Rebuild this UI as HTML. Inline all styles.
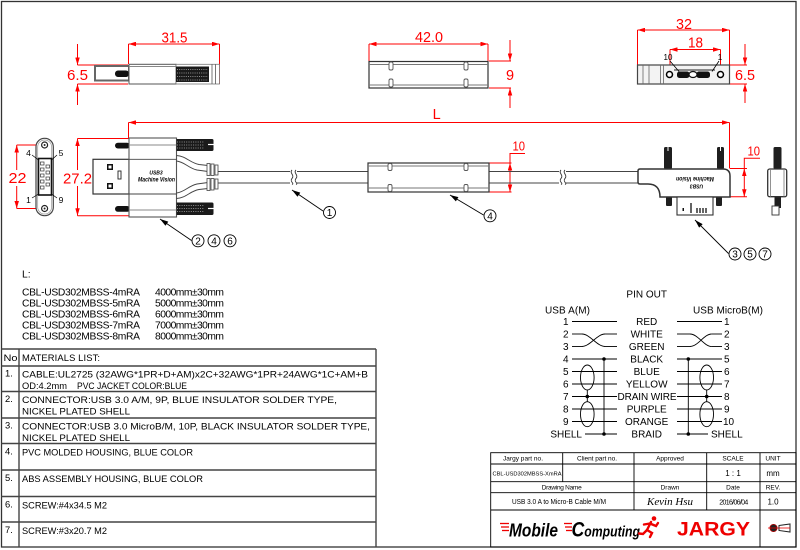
<!DOCTYPE html>
<html><head><meta charset="utf-8"><style>html,body{margin:0;padding:0;background:#fff}svg{display:block}</style></head><body>
<svg width="800" height="550" viewBox="0 0 800 550" xmlns="http://www.w3.org/2000/svg" font-family="'Liberation Sans', Arial, sans-serif">
<defs>
<marker id="ra" viewBox="0 0 10 6" refX="10" refY="3" markerWidth="8" markerHeight="4.5" markerUnits="userSpaceOnUse" orient="auto-start-reverse"><path d="M0,0L10,3L0,6z" fill="#f00"/></marker>
<marker id="ba" viewBox="0 0 10 6" refX="10" refY="3" markerWidth="9" markerHeight="5" markerUnits="userSpaceOnUse" orient="auto-start-reverse"><path d="M0,0L10,3L0,6z" fill="#000"/></marker>
</defs>
<rect width="800" height="550" fill="#fff"/>
<rect x="1.5" y="1.5" width="794.5" height="545.5" fill="none" stroke="#333" stroke-width="1.3"/>

<g stroke="#f00" stroke-width="1" fill="none">
  <line x1="128.5" y1="44" x2="219.5" y2="44" marker-start="url(#ra)" marker-end="url(#ra)"/>
  <line x1="128.5" y1="44" x2="128.5" y2="64"/>
  <line x1="219.5" y1="44" x2="219.5" y2="84"/>
  <line x1="77.5" y1="65" x2="128" y2="65"/>
  <line x1="77.5" y1="84" x2="128" y2="84"/>
  <line x1="77.5" y1="44" x2="77.5" y2="65" marker-end="url(#ra)"/>
  <line x1="77.5" y1="105" x2="77.5" y2="84" marker-end="url(#ra)"/>
  <line x1="369" y1="44" x2="488" y2="44" marker-start="url(#ra)" marker-end="url(#ra)"/>
  <line x1="369" y1="44" x2="369" y2="61"/>
  <line x1="488" y1="44" x2="488" y2="61"/>
  <line x1="489" y1="61" x2="511" y2="61"/>
  <line x1="489" y1="88" x2="511" y2="88"/>
  <line x1="510" y1="40" x2="510" y2="61" marker-end="url(#ra)"/>
  <line x1="510" y1="108" x2="510" y2="88" marker-end="url(#ra)"/>
  <line x1="637.5" y1="30" x2="729.5" y2="30" marker-start="url(#ra)" marker-end="url(#ra)"/>
  <line x1="637.5" y1="30" x2="637.5" y2="65"/>
  <line x1="729.5" y1="30" x2="729.5" y2="84"/>
  <line x1="670" y1="49.5" x2="720.5" y2="49.5" marker-start="url(#ra)" marker-end="url(#ra)"/>
  <line x1="670" y1="49.5" x2="670" y2="72"/>
  <line x1="720.5" y1="49.5" x2="720.5" y2="72"/>
  <line x1="730" y1="65" x2="747" y2="65"/>
  <line x1="730" y1="84" x2="747" y2="84"/>
  <line x1="745" y1="44" x2="745" y2="65" marker-end="url(#ra)"/>
  <line x1="745" y1="103" x2="745" y2="84" marker-end="url(#ra)"/>
  <line x1="128.5" y1="122.5" x2="729.5" y2="122.5" marker-start="url(#ra)" marker-end="url(#ra)"/>
  <line x1="128.5" y1="122.5" x2="128.5" y2="138"/>
  <line x1="729.5" y1="122.5" x2="729.5" y2="168.5"/>
  <line x1="16.7" y1="145" x2="16.7" y2="170" marker-start="url(#ra)"/>
  <line x1="16.7" y1="186" x2="16.7" y2="208.5" marker-end="url(#ra)"/>
  <line x1="16.7" y1="145" x2="41" y2="145"/>
  <line x1="16.7" y1="208.5" x2="41" y2="208.5"/>
  <line x1="77.5" y1="138.5" x2="77.5" y2="170" marker-start="url(#ra)"/>
  <line x1="77.5" y1="186" x2="77.5" y2="215.7" marker-end="url(#ra)"/>
  <line x1="77.5" y1="138.5" x2="129" y2="138.5"/>
  <line x1="77.5" y1="215.7" x2="129" y2="215.7"/>
  <line x1="489" y1="163" x2="511.5" y2="163"/>
  <line x1="489" y1="192" x2="511.5" y2="192"/>
  <line x1="510" y1="163" x2="510" y2="192" marker-start="url(#ra)" marker-end="url(#ra)"/>
  <polyline points="510,163 510,153.5 525,153.5"/>
  <line x1="730" y1="168.5" x2="747" y2="168.5"/>
  <line x1="730" y1="196.7" x2="747" y2="196.7"/>
  <line x1="744.3" y1="168.5" x2="744.3" y2="196.7" marker-start="url(#ra)" marker-end="url(#ra)"/>
  <polyline points="744.3,168.5 744.3,158.3 760,158.3"/>
</g>
<g fill="#f00" font-size="14.5">
  <text x="174.5" y="42.5" text-anchor="middle" textLength="26" lengthAdjust="spacingAndGlyphs">31.5</text>
  <text x="77.5" y="80" text-anchor="middle" textLength="21" lengthAdjust="spacingAndGlyphs">6.5</text>
  <text x="429" y="42" text-anchor="middle" textLength="28" lengthAdjust="spacingAndGlyphs">42.0</text>
  <text x="510" y="80" text-anchor="middle">9</text>
  <text x="684" y="29" text-anchor="middle" textLength="16" lengthAdjust="spacingAndGlyphs">32</text>
  <text x="695.5" y="47.7" text-anchor="middle" textLength="15" lengthAdjust="spacingAndGlyphs">18</text>
  <text x="745" y="80" text-anchor="middle" textLength="20" lengthAdjust="spacingAndGlyphs">6.5</text>
  <text x="436.7" y="119" text-anchor="middle">L</text>
  <text x="17.5" y="183" text-anchor="middle" textLength="18" lengthAdjust="spacingAndGlyphs">22</text>
  <text x="77.5" y="183.5" text-anchor="middle" textLength="29" lengthAdjust="spacingAndGlyphs">27.2</text>
  <text x="512.5" y="150.5" font-size="13" textLength="12.5" lengthAdjust="spacingAndGlyphs">10</text>
  <text x="747.5" y="155.5" font-size="13" textLength="12.5" lengthAdjust="spacingAndGlyphs">10</text>
</g>

<rect x="95" y="66" width="34" height="14.5" fill="#fff" stroke="#666" stroke-width="2"/>
<rect x="115" y="70.5" width="14" height="6.5" rx="3" fill="#111"/>
<rect x="129" y="64.3" width="47" height="19.7" fill="#fff" stroke="#555"/>
<line x1="129" y1="66.5" x2="176" y2="66.5" stroke="#888"/>
<rect x="176" y="64.3" width="43.5" height="19.7" fill="#fff" stroke="#777" stroke-width="0.8"/>
<rect x="176" y="66.5" width="33" height="15.5" fill="#1a1a1a"/>
<g stroke="#fff" stroke-width="0.6" stroke-dasharray="1 1.2">
  <line x1="177" y1="69.5" x2="208" y2="69.5"/><line x1="177" y1="73" x2="208" y2="73"/><line x1="177" y1="76.5" x2="208" y2="76.5"/><line x1="177" y1="80" x2="208" y2="80"/>
</g>
<g stroke="#555" stroke-width="0.8"><line x1="212" y1="64.3" x2="212" y2="84"/><line x1="215.5" y1="64.3" x2="215.5" y2="84"/></g>

<rect x="369" y="61.5" width="119" height="26.5" fill="#fff" stroke="#333" stroke-width="1.2"/>
<line x1="369" y1="64.5" x2="488" y2="64.5" stroke="#777"/>
<line x1="369" y1="85" x2="488" y2="85" stroke="#777"/>
<g fill="#fff" stroke="#555" stroke-width="0.9">
  <rect x="389" y="62" width="4" height="8" rx="1.5"/><rect x="389" y="79" width="4" height="8" rx="1.5"/>
  <rect x="464" y="62" width="4" height="8" rx="1.5"/><rect x="464" y="79" width="4" height="8" rx="1.5"/>
</g>

<rect x="637.5" y="65" width="92" height="19" fill="#f3f3f3" stroke="#444" stroke-width="1.2"/>
<g stroke="#666" stroke-width="0.8"><line x1="643" y1="65" x2="643" y2="84"/><line x1="649" y1="65" x2="649" y2="84"/><line x1="660.5" y1="65" x2="660.5" y2="84"/><line x1="663.5" y1="65" x2="663.5" y2="84"/></g>
<path d="M674,70 L715,70" stroke="#222" stroke-width="1"/>
<circle cx="669.5" cy="74.5" r="3" fill="#fff" stroke="#000" stroke-width="1.5"/>
<circle cx="720.5" cy="74.5" r="3" fill="#fff" stroke="#000" stroke-width="1.5"/>
<rect x="677" y="71.5" width="12.5" height="6.5" rx="2.5" fill="#111"/>
<rect x="696.5" y="71.5" width="13.5" height="6.5" rx="2.5" fill="#111"/>
<ellipse cx="693" cy="74.5" rx="4" ry="3" fill="#fff" stroke="#111" stroke-width="1.2"/>
<g stroke="#000" stroke-width="0.8"><line x1="670" y1="61" x2="679" y2="71.5"/><line x1="719" y1="61" x2="712" y2="71.5"/></g>
<text x="668" y="60" font-size="8" text-anchor="middle">10</text>
<text x="720" y="60" font-size="8" text-anchor="middle">1</text>

<rect x="36" y="138.3" width="17.3" height="77.4" rx="8.5" fill="#fff" stroke="#444" stroke-width="1.2"/>
<rect x="37.7" y="140" width="13.9" height="74" rx="7" fill="none" stroke="#999" stroke-width="0.7"/>
<circle cx="44.6" cy="145" r="3" fill="#fff" stroke="#222" stroke-width="1.2"/><circle cx="44.6" cy="145" r="1" fill="#222"/>
<circle cx="44.6" cy="208.5" r="3" fill="#fff" stroke="#222" stroke-width="1.2"/><circle cx="44.6" cy="208.5" r="1" fill="#222"/>
<rect x="38.5" y="158.5" width="13" height="36.5" fill="#fff" stroke="#111" stroke-width="1.6"/>
<g fill="#fff" stroke="#333" stroke-width="0.7">
  <rect x="40.5" y="162" width="3.5" height="3"/><rect x="40.5" y="168" width="3.5" height="3"/><rect x="40.5" y="174" width="3.5" height="3"/><rect x="40.5" y="180" width="3.5" height="3"/><rect x="40.5" y="186" width="3.5" height="3"/>
  <rect x="46" y="165" width="3.5" height="3"/><rect x="46" y="171" width="3.5" height="3"/><rect x="46" y="177" width="3.5" height="3"/><rect x="46" y="183" width="3.5" height="3"/>
</g>
<g stroke="#000" stroke-width="0.7"><line x1="32" y1="155" x2="38.5" y2="160"/><line x1="57" y1="155" x2="51.5" y2="160"/><line x1="32" y1="198" x2="38.5" y2="194"/><line x1="57" y1="198" x2="51.5" y2="194"/></g>
<g font-size="8.5" text-anchor="middle"><text x="28.5" y="156">4</text><text x="61" y="156">5</text><text x="28.5" y="203">1</text><text x="61" y="203">9</text></g>

<rect x="93" y="159.3" width="36" height="34.7" fill="#fff" stroke="#333" stroke-width="1.2"/>
<rect x="107" y="164" width="6" height="6" fill="#111"/><rect x="108.5" y="165.5" width="3" height="3" fill="#fff"/>
<rect x="107" y="183" width="6" height="6" fill="#111"/><rect x="108.5" y="184.5" width="3" height="3" fill="#fff"/>
<rect x="118" y="171" width="3" height="8" fill="#fff" stroke="#222" stroke-width="0.9"/>
<rect x="115" y="142.7" width="15" height="5.8" rx="2.9" fill="#111"/>
<rect x="115" y="206" width="15" height="5.8" rx="2.9" fill="#111"/>
<rect x="129" y="138" width="47.5" height="79" fill="#fff" stroke="#555" stroke-width="1.1"/>
<g stroke="#888" stroke-width="0.9"><line x1="129" y1="145" x2="176.5" y2="145"/><line x1="129" y1="210" x2="176.5" y2="210"/></g>
<g stroke="#444" stroke-width="0.9"><line x1="129" y1="159.3" x2="176.5" y2="159.3"/><line x1="129" y1="194" x2="176.5" y2="194"/></g>
<rect x="176.5" y="139" width="28.5" height="12" fill="#1a1a1a"/>
<rect x="176.5" y="202.5" width="28.5" height="12.5" fill="#1a1a1a"/>
<path d="M205,139 h7 a1.5,1.5 0 0 1 1.5,1.5 v9 a1.5,1.5 0 0 1 -1.5,1.5 h-7z M205,202.5 h7 a1.5,1.5 0 0 1 1.5,1.5 v9.5 a1.5,1.5 0 0 1 -1.5,1.5 h-7z" fill="#1a1a1a"/>
<g stroke="#fff" stroke-width="0.6" stroke-dasharray="1 1.3">
  <line x1="177" y1="142" x2="204" y2="142"/><line x1="177" y1="145" x2="204" y2="145"/><line x1="177" y1="148" x2="204" y2="148"/>
  <line x1="177" y1="205.5" x2="204" y2="205.5"/><line x1="177" y1="208.5" x2="204" y2="208.5"/><line x1="177" y1="211.5" x2="204" y2="211.5"/>
</g>
<line x1="208" y1="144.5" x2="213.5" y2="144.5" stroke="#fff" stroke-width="1.2"/>
<line x1="208" y1="208.5" x2="213.5" y2="208.5" stroke="#fff" stroke-width="1.2"/>
<g fill="none" stroke="#444" stroke-width="0.9">
  <path d="M176.5,155.5 C186,156 190,163 199,164.5 L208,165.5"/>
  <path d="M176.5,161 C185,162 188,168 197,170 L208,171.5"/>
  <path d="M176.5,193 C185,192 188,186 197,184 L208,182.5"/>
  <path d="M176.5,198.5 C186,198 190,191 199,189.5 L208,188.5"/>
</g>
<g fill="#fff" stroke="#444" stroke-width="0.8">
  <rect x="207" y="163.5" width="3" height="12"/><rect x="211" y="164" width="3" height="11.5"/><rect x="215" y="165" width="3" height="10"/>
  <rect x="207" y="178.5" width="3" height="12"/><rect x="211" y="178.5" width="3" height="11.5"/><rect x="215" y="179" width="3" height="10"/>
</g>
<text x="156" y="174.5" font-size="5" font-weight="bold" font-style="italic" text-anchor="middle">USB3</text>
<text x="156.5" y="181.5" font-size="6.5" font-weight="bold" font-style="italic" text-anchor="middle" textLength="37" lengthAdjust="spacingAndGlyphs">Machine Vision</text>

<g stroke="#444" stroke-width="0.9">
  <line x1="218" y1="171.5" x2="368" y2="171.5"/><line x1="218" y1="183" x2="368" y2="183"/>
  <line x1="489" y1="171.5" x2="638" y2="171.5"/><line x1="489" y1="183" x2="638" y2="183"/>
</g>
<rect x="290" y="170" width="7" height="15" fill="#fff"/>
<rect x="559" y="170" width="7" height="15" fill="#fff"/>
<g fill="none" stroke="#333" stroke-width="0.9">
  <path d="M292,170 c-3,3 3,5 0,8.5 c-3,3 3,5 0,6"/><path d="M296,170 c-3,3 3,5 0,8.5 c-3,3 3,5 0,6"/>
  <path d="M561,170 c-3,3 3,5 0,8.5 c-3,3 3,5 0,6"/><path d="M565,170 c-3,3 3,5 0,8.5 c-3,3 3,5 0,6"/>
</g>

<rect x="368" y="163" width="121" height="29" fill="#fff" stroke="#333" stroke-width="1.2"/>
<line x1="368" y1="166" x2="489" y2="166" stroke="#777"/>
<line x1="368" y1="188" x2="489" y2="188" stroke="#777"/>
<g fill="#fff" stroke="#555" stroke-width="0.9">
  <rect x="388" y="163.5" width="4" height="7" rx="1.5"/><rect x="388" y="184.5" width="4" height="7" rx="1.5"/>
  <rect x="464" y="163.5" width="4" height="7" rx="1.5"/><rect x="464" y="184.5" width="4" height="7" rx="1.5"/>
</g>

<rect x="664" y="147" width="8" height="22" rx="1.5" fill="#1f1f1f"/>
<rect x="717" y="147" width="7" height="22" rx="1.5" fill="#1f1f1f"/>
<line x1="668" y1="147" x2="668" y2="151" stroke="#fff" stroke-width="1"/>
<line x1="720.5" y1="147" x2="720.5" y2="151" stroke="#fff" stroke-width="1"/>
<rect x="666" y="196" width="6" height="10" rx="1" fill="#1f1f1f"/>
<rect x="716" y="196" width="6" height="10" rx="1" fill="#1f1f1f"/>
<path d="M640,169 L723,169 Q730,169 730,176 L730,197 L660,197 Q660,184 648,184 L640,184 Q638,184 638,182 L638,171 Q638,169 640,169 Z" fill="#fff" stroke="#333" stroke-width="1.5"/>
<rect x="677" y="197" width="36" height="18" fill="#fff" stroke="#333" stroke-width="1.1"/>
<g stroke="#111" stroke-width="1.3"><line x1="691" y1="203" x2="691" y2="213"/><line x1="697" y1="208" x2="697" y2="213"/><line x1="700" y1="208" x2="700" y2="213"/><line x1="703" y1="208" x2="703" y2="213"/><line x1="706" y1="208" x2="706" y2="213"/></g>
<rect x="682.5" y="208" width="1.5" height="3" fill="#111"/>
<text transform="translate(695,177) rotate(180)" font-size="6.5" font-weight="bold" font-style="italic" text-anchor="middle" textLength="38" lengthAdjust="spacingAndGlyphs">Machine Vision</text>
<text transform="translate(696.5,184.5) rotate(180)" font-size="5" font-weight="bold" font-style="italic" text-anchor="middle">USB3</text>
<rect x="773.5" y="147" width="8" height="22" rx="1.5" fill="#1f1f1f"/>
<rect x="774.5" y="196" width="6.5" height="12" fill="#1f1f1f"/>
<rect x="767.7" y="169" width="19" height="27.7" rx="2" fill="#fff" stroke="#333" stroke-width="1.3"/>
<g stroke="#777" stroke-width="0.8"><line x1="770.5" y1="169" x2="770.5" y2="196.7"/><line x1="784" y1="169" x2="784" y2="196.7"/></g>
<rect x="772" y="206" width="7" height="9" fill="#fff" stroke="#333" stroke-width="0.9"/>

<g stroke="#000" stroke-width="0.9" fill="none">
  <line x1="323" y1="211" x2="292" y2="190" marker-end="url(#ba)"/>
  <line x1="483.5" y1="215" x2="450" y2="195" marker-end="url(#ba)"/>
  <line x1="191.5" y1="240.5" x2="160" y2="219" marker-end="url(#ba)"/>
  <line x1="728.5" y1="253.5" x2="695" y2="220" marker-end="url(#ba)"/>
  <circle cx="329.5" cy="212.5" r="6"/>
  <circle cx="490" cy="215.8" r="6"/>
  <circle cx="198" cy="240.8" r="6"/><circle cx="214" cy="240.8" r="6"/><circle cx="230" cy="240.8" r="6"/>
  <circle cx="735" cy="254" r="6"/><circle cx="750" cy="254" r="6"/><circle cx="765" cy="254" r="6"/>
</g>
<g font-size="10" text-anchor="middle">
  <text x="329.5" y="216">1</text><text x="490" y="219.3">4</text>
  <text x="198" y="244.3">2</text><text x="214" y="244.3">4</text><text x="230" y="244.3">6</text>
  <text x="735" y="257.5">3</text><text x="750" y="257.5">5</text><text x="765" y="257.5">7</text>
</g>

<g font-size="10.3" fill="#000">
  <text x="22" y="277.7">L:</text>
  <text x="22" y="295.7" textLength="118">CBL-USD302MBSS-4mRA</text><text x="155" y="295.7" textLength="69">4000mm±30mm</text>
  <text x="22" y="306.7" textLength="118">CBL-USD302MBSS-5mRA</text><text x="155" y="306.7" textLength="69">5000mm±30mm</text>
  <text x="22" y="317.7" textLength="118">CBL-USD302MBSS-6mRA</text><text x="155" y="317.7" textLength="69">6000mm±30mm</text>
  <text x="22" y="328.7" textLength="118">CBL-USD302MBSS-7mRA</text><text x="155" y="328.7" textLength="69">7000mm±30mm</text>
  <text x="22" y="339.7" textLength="118">CBL-USD302MBSS-8mRA</text><text x="155" y="339.7" textLength="69">8000mm±30mm</text>
</g>

<g stroke="#444" stroke-width="1.4">
  <line x1="1.5" y1="349" x2="376" y2="349"/>
  <line x1="1.5" y1="366" x2="376" y2="366"/>
  <line x1="1.5" y1="391.5" x2="376" y2="391.5"/>
  <line x1="1.5" y1="418" x2="376" y2="418"/>
  <line x1="1.5" y1="443.5" x2="376" y2="443.5"/>
  <line x1="1.5" y1="470" x2="376" y2="470"/>
  <line x1="1.5" y1="496.5" x2="376" y2="496.5"/>
  <line x1="1.5" y1="522" x2="376" y2="522"/>
  <line x1="19" y1="349" x2="19" y2="547"/>
  <line x1="376" y1="349" x2="376" y2="547"/>
</g>
<g font-size="9.4" fill="#000">
  <text x="3.5" y="361" textLength="14" lengthAdjust="spacingAndGlyphs">No</text>
  <text x="22" y="361" textLength="78">MATERIALS LIST:</text>
  <text x="5" y="376.5">1.</text>
  <text x="22" y="377.5" textLength="346" lengthAdjust="spacingAndGlyphs">CABLE:UL2725 (32AWG*1PR+D+AM)x2C+32AWG*1PR+24AWG*1C+AM+B</text>
  <text x="22" y="388.8" textLength="45" lengthAdjust="spacingAndGlyphs">OD:4.2mm</text>
  <text x="77" y="388.8" textLength="110" lengthAdjust="spacingAndGlyphs">PVC JACKET COLOR:BLUE</text>
  <text x="5" y="402">2.</text>
  <text x="22" y="403" textLength="315" lengthAdjust="spacingAndGlyphs">CONNECTOR:USB 3.0 A/M, 9P, BLUE INSULATOR SOLDER TYPE,</text>
  <text x="22" y="414.5" textLength="108" lengthAdjust="spacingAndGlyphs">NICKEL PLATED SHELL</text>
  <text x="5" y="428.5">3.</text>
  <text x="22" y="429.5" textLength="348" lengthAdjust="spacingAndGlyphs">CONNECTOR:USB 3.0 MicroB/M, 10P, BLACK INSULATOR SOLDER TYPE,</text>
  <text x="22" y="441" textLength="108" lengthAdjust="spacingAndGlyphs">NICKEL PLATED SHELL</text>
  <text x="5" y="454.5">4.</text>
  <text x="22" y="455.3" textLength="171" lengthAdjust="spacingAndGlyphs">PVC MOLDED HOUSING, BLUE COLOR</text>
  <text x="5" y="481">5.</text>
  <text x="22" y="482" textLength="181" lengthAdjust="spacingAndGlyphs">ABS ASSEMBLY HOUSING, BLUE COLOR</text>
  <text x="5" y="507.5">6.</text>
  <text x="22" y="508.5" textLength="85" lengthAdjust="spacingAndGlyphs">SCREW:#4x34.5 M2</text>
  <text x="5" y="533">7.</text>
  <text x="22" y="534" textLength="85" lengthAdjust="spacingAndGlyphs">SCREW:#3x20.7 M2</text>
</g>

<g font-size="10" fill="#000">
  <text x="646.7" y="297.7" text-anchor="middle">PIN OUT</text>
  <text x="545" y="313.7" textLength="45">USB A(M)</text>
  <text x="693" y="313.7" textLength="70">USB MicroB(M)</text>
  <g text-anchor="end">
    <text x="568.5" y="325.2">1</text><text x="568.5" y="337.7">2</text><text x="568.5" y="350.2">3</text><text x="568.5" y="362.7">4</text><text x="568.5" y="375.2">5</text><text x="568.5" y="387.7">6</text><text x="568.5" y="400.2">7</text><text x="568.5" y="412.7">8</text><text x="568.5" y="425.2">9</text><text x="582" y="437.7">SHELL</text>
  </g>
  <g text-anchor="middle">
    <text x="646.7" y="325.2">RED</text><text x="646.7" y="337.7">WHITE</text><text x="646.7" y="350.2">GREEN</text><text x="646.7" y="362.7">BLACK</text><text x="646.7" y="375.2">BLUE</text><text x="646.7" y="387.7">YELLOW</text><text x="647" y="400.2" textLength="59">DRAIN WIRE</text><text x="646.7" y="412.7">PURPLE</text><text x="646.7" y="425.2">ORANGE</text><text x="646.7" y="437.7">BRAID</text>
  </g>
  <text x="724" y="325.2">1</text><text x="724" y="337.7">2</text><text x="724" y="350.2">3</text><text x="724" y="362.7">5</text><text x="724" y="375.2">6</text><text x="724" y="387.7">7</text><text x="724" y="400.2">8</text><text x="724" y="412.7">9</text><text x="723" y="425.2">10</text><text x="711" y="437.7">SHELL</text>
</g>
<g stroke="#000" stroke-width="0.9" fill="none">
  <line x1="572" y1="321.5" x2="617" y2="321.5"/><line x1="677" y1="321.5" x2="722" y2="321.5"/>
  <line x1="572" y1="334" x2="582" y2="334"/><line x1="605" y1="334" x2="617" y2="334"/>
  <line x1="572" y1="346.5" x2="582" y2="346.5"/><line x1="605" y1="346.5" x2="617" y2="346.5"/>
  <path d="M582,334 C590,334 597,346.5 605,346.5"/><path d="M582,346.5 C590,346.5 597,334 605,334"/>
  <line x1="677" y1="334" x2="690" y2="334"/><line x1="711.7" y1="334" x2="722" y2="334"/>
  <line x1="677" y1="346.5" x2="690" y2="346.5"/><line x1="711.7" y1="346.5" x2="722" y2="346.5"/>
  <path d="M690,334 C698,334 704,346.5 711.7,346.5"/><path d="M690,346.5 C698,346.5 704,334 711.7,334"/>
  <line x1="572" y1="359" x2="617" y2="359"/><line x1="677" y1="359" x2="722" y2="359"/>
  <line x1="572" y1="371.5" x2="617" y2="371.5"/><line x1="677" y1="371.5" x2="722" y2="371.5"/>
  <line x1="572" y1="384" x2="617" y2="384"/><line x1="677" y1="384" x2="722" y2="384"/>
  <line x1="572" y1="396.5" x2="617" y2="396.5"/><line x1="677" y1="396.5" x2="722" y2="396.5"/>
  <line x1="572" y1="409" x2="617" y2="409"/><line x1="677" y1="409" x2="722" y2="409"/>
  <line x1="572" y1="421.5" x2="617" y2="421.5"/><line x1="677" y1="421.5" x2="722" y2="421.5"/>
  <line x1="585" y1="434" x2="617" y2="434"/><line x1="677" y1="434" x2="708" y2="434"/>
  <line x1="604" y1="359" x2="604" y2="434"/><line x1="688.3" y1="359" x2="688.3" y2="434"/>
  <ellipse cx="587.3" cy="377.5" rx="6.8" ry="12.5"/><ellipse cx="587.3" cy="414.2" rx="6.8" ry="12.5"/>
  <line x1="587.3" y1="390" x2="587.3" y2="401.7"/>
  <ellipse cx="706.7" cy="377.5" rx="6.8" ry="12.5"/><ellipse cx="706.7" cy="414.2" rx="6.8" ry="12.5"/>
  <line x1="706.7" y1="390" x2="706.7" y2="401.7"/>
</g>
<g fill="#000">
  <circle cx="604" cy="359" r="1.8"/><circle cx="604" cy="434" r="1.8"/><circle cx="587.3" cy="396.5" r="1.8"/>
  <circle cx="688.3" cy="359" r="1.8"/><circle cx="688.3" cy="434" r="1.8"/><circle cx="706.7" cy="396.5" r="1.8"/>
</g>

<g stroke="#000" stroke-width="0.9" fill="none">
  <rect x="490.7" y="452.7" width="305.3" height="94.3"/>
  <line x1="490.7" y1="464" x2="796" y2="464"/>
  <line x1="490.7" y1="481.7" x2="796" y2="481.7"/>
  <line x1="490.7" y1="492.7" x2="796" y2="492.7"/>
  <line x1="490.7" y1="510" x2="796" y2="510"/>
  <line x1="562.7" y1="452.7" x2="562.7" y2="481.7"/>
  <line x1="634" y1="452.7" x2="634" y2="510"/>
  <line x1="706.7" y1="452.7" x2="706.7" y2="510"/>
  <line x1="760" y1="452.7" x2="760" y2="547"/>
</g>
<g font-size="6.5" text-anchor="middle" fill="#000">
  <text x="523" y="460.7" textLength="40">Jargy part no.</text>
  <text x="597" y="460.7" textLength="40">Client part no.</text>
  <text x="670" y="460.7">Approved</text>
  <text x="733" y="460.7">SCALE</text>
  <text x="773" y="460.7">UNIT</text>
  <text x="527" y="475.5" font-size="5.8" textLength="69" lengthAdjust="spacingAndGlyphs">CBL-USD302MBSS-XmRA</text>
  <text x="733" y="476" font-size="8">1 : 1</text>
  <text x="773" y="476" font-size="8">mm</text>
  <text x="561.7" y="489.5" textLength="40">Drawing Name</text>
  <text x="670" y="489.5">Drawn</text>
  <text x="733" y="489.5">Date</text>
  <text x="773" y="489.5">REV.</text>
  <text x="559" y="504" font-size="7" textLength="94" lengthAdjust="spacingAndGlyphs">USB 3.0 A to Micro-B Cable M/M</text>
  <text x="670" y="505" font-size="10" font-style="italic" font-family="'Liberation Serif', serif" textLength="46" lengthAdjust="spacingAndGlyphs">Kevin Hsu</text>
  <text x="733.8" y="504.5" font-size="7" textLength="29">2016/06/04</text>
  <text x="773" y="504.5" font-size="8">1.0</text>
</g>
<g stroke="#e00" stroke-width="1.3">
  <line x1="500" y1="523.5" x2="509" y2="523.5"/><line x1="501" y1="527" x2="509" y2="527"/><line x1="502" y1="530.5" x2="509" y2="530.5"/>
  <line x1="564" y1="523.5" x2="572" y2="523.5"/><line x1="565" y1="527" x2="572" y2="527"/><line x1="566" y1="530.5" x2="572" y2="530.5"/>
</g>
<text x="509" y="536.5" font-size="18" font-weight="bold" font-style="italic" fill="#000" textLength="49" lengthAdjust="spacingAndGlyphs">Mobile</text>
<text x="571.5" y="536.5" font-weight="bold" font-style="italic" fill="#000" textLength="68.5" lengthAdjust="spacingAndGlyphs"><tspan font-size="21">C</tspan><tspan font-size="14.5">omputing</tspan></text>
<g stroke="#e00" stroke-width="2.4" fill="none" stroke-linecap="round">
  <circle cx="654" cy="518.5" r="2.3" fill="#e00" stroke="none"/>
  <path d="M651,522 L647,530"/><path d="M650,523.5 L656,526 L658,523"/><path d="M650,523.5 L644,524.5"/>
  <path d="M647,530 L652,533 L650,537"/><path d="M647,530 L643,534 L639,533.5"/>
</g>
<text x="677" y="535.5" font-size="19.5" font-weight="bold" fill="#e00" textLength="73" lengthAdjust="spacingAndGlyphs">JARGY</text>
<circle cx="773.5" cy="528" r="3.6" fill="#222" stroke="#a00" stroke-width="0.8"/>
<line x1="768" y1="528" x2="779" y2="528" stroke="#e00" stroke-width="0.8"/>
<path d="M779,525.5 L790,524 L790,532 L779,530.5 Z" fill="#fff" stroke="#222" stroke-width="1"/>
<line x1="779" y1="528" x2="790" y2="528" stroke="#e00" stroke-width="0.8"/>
</svg>
</body></html>
